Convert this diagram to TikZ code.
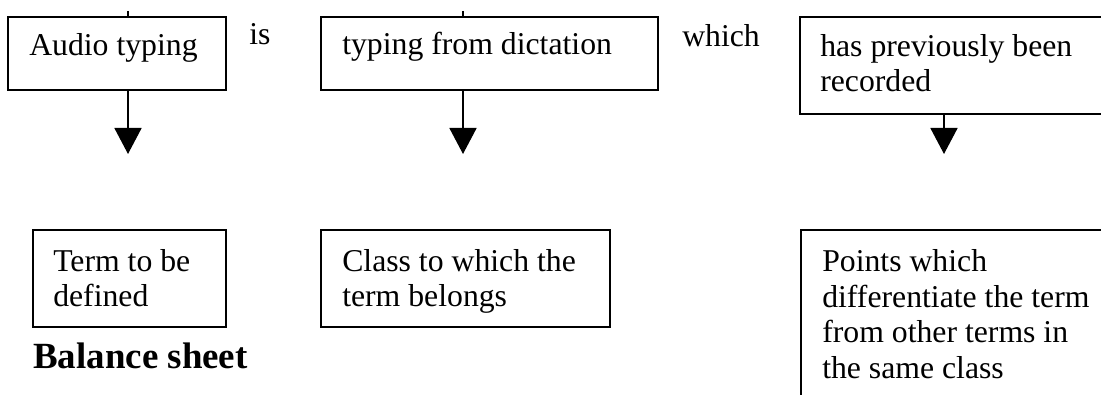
\documentclass[tikz,border=0pt]{standalone}
\usepackage{fontspec}
\setmainfont{Liberation Serif}
\usetikzlibrary{arrows.meta}
\newcommand{\mylines}[1]{\parbox[t]{12cm}{\raggedright #1}}
\tikzset{
  box/.style={draw, line width=1.25pt, rectangle, inner sep=0pt, anchor=north west},
  txt/.style={anchor=base west, inner sep=0pt, font=\fontsize{23.8}{26}\selectfont},
  widetxt/.style={anchor=base west, inner sep=0pt, font=\fontsize{23.8}{26.6}\selectfont},
  boldtxt/.style={anchor=base west, inner sep=0pt, font=\fontsize{27.7}{30}\selectfont\bfseries},
  conn/.style={line width=1.25pt},
  arr/.style={line width=1.25pt, -{Triangle[width=20.25pt,length=19.5pt]}}
}
\begin{document}
\begin{tikzpicture}[x=0.75pt,y=-0.75pt]
\clip (0,0) rectangle (1101,395);
\fill[white] (0,0) rectangle (1101,395);
% upper boxes
\node[box, minimum width=163.5pt, minimum height=54.75pt] (a) at (7,16) {};
\node[box, minimum width=252.75pt, minimum height=54.75pt] (b) at (320,16) {};
\node[box, minimum width=233.25pt, minimum height=72.75pt] (c) at (799,16) {};
% lower boxes
\node[box, minimum width=144.75pt, minimum height=72.75pt] (d) at (32,229) {};
\node[box, minimum width=216.75pt, minimum height=72.75pt] (e) at (320,229) {};
\node[box, minimum width=232.5pt, minimum height=135.75pt] (f) at (800,229) {};
% texts
\node[txt] (ta) at (29,56) {Audio typing};
\node[txt] (is) at (249,45) {is};
\node[txt] (tb) at (342,55) {typing from dictation};
\node[txt] (wh) at (682,47) {which};
\node[txt] (tc) at (820,57) {\mylines{has previously been\\recorded}};
\node[txt] (td) at (53,272) {\mylines{Term to be\\defined}};
\node[txt] (te) at (342,272) {\mylines{Class to which the\\term belongs}};
\node[widetxt] (tf) at (822,272) {\mylines{Points which\\differentiate the term\\from other terms in\\the same class}};
\node[boldtxt] (bs) at (33,369) {Balance sheet};
% stubs above
\coordinate (sa) at (128,11);
\coordinate (sb) at (463,11);
\draw[conn] (sa) -- (sa |- a.north);
\draw[conn] (sb) -- (sb |- b.north);
% arrows
\coordinate (pa) at (128,154);
\coordinate (pb) at (463,154);
\coordinate (pc) at (944,154);
\draw[arr] (pa |- a.south) -- (pa);
\draw[arr] (pb |- b.south) -- (pb);
\draw[arr] (pc |- c.south) -- (pc);
\end{tikzpicture}
\end{document}
